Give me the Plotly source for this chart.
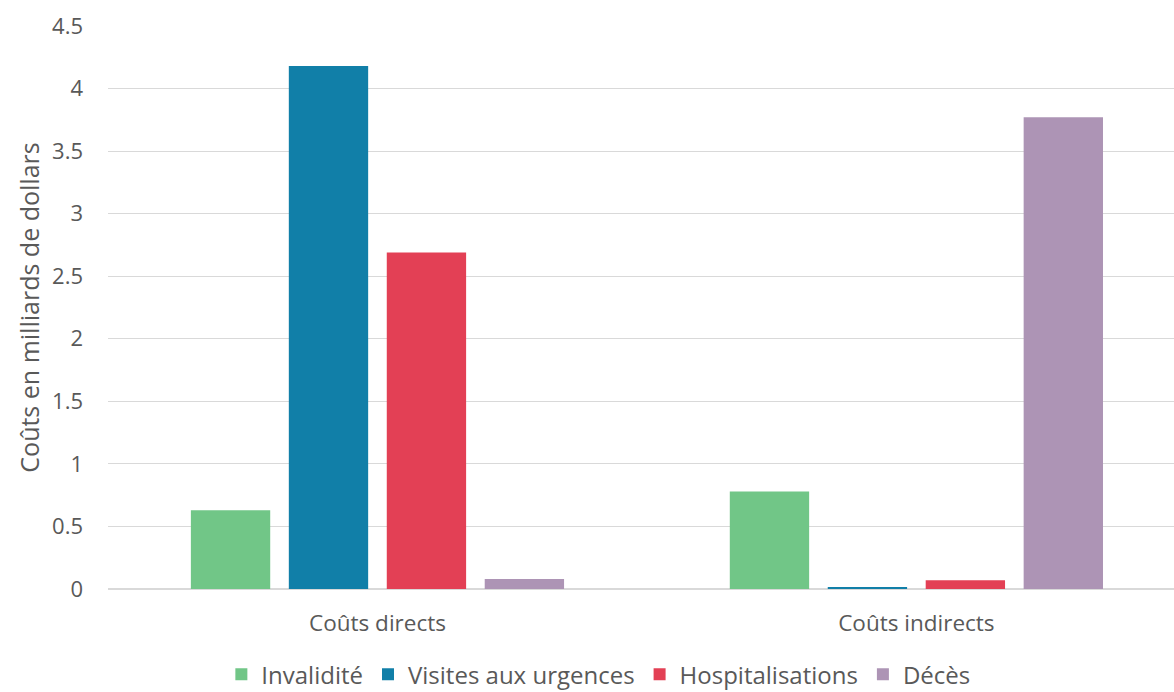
import plotly.graph_objects as go

categories = ["Coûts directs", "Coûts indirects"]
series_names = ["Invalidité", "Visites aux urgences", "Hospitalisations", "Décès"]
invalidite = [0.63, 0.78]
visites = [4.18, 0.01]
hospitalisations = [2.69, 0.07]
deces = [0.08, 3.77]
colors = ["#71c687", "#117fa8", "#e34055", "#ad94b5"]
y_ticks = [0, 0.5, 1, 1.5, 2, 2.5, 3, 3.5, 4, 4.5]
y_tick_labels = ["0", "0.5", "1", "1.5", "2", "2.5", "3", "3.5", "4", "4.5"]

fig = go.Figure()
for name, vals, col in zip(series_names, [invalidite, visites, hospitalisations, deces], colors):
    fig.add_trace(go.Bar(x=categories, y=vals, name=name, marker=dict(color=col, line=dict(width=0))))

font_family = "'Open Sans', sans-serif"
fig.update_layout(
    width=1174, height=692,
    margin=dict(l=108, r=0, t=26, b=103, autoexpand=False),
    paper_bgcolor="white", plot_bgcolor="white",
    barmode="group", bargap=0.273, bargroupgap=0.19,
    font=dict(family=font_family, color="#595959", size=22),
    showlegend=True,
    legend=dict(orientation="h", x=0.46, xanchor="center", y=-0.152, yanchor="middle",
                font=dict(size=24, color="#595959"), itemwidth=30, traceorder="normal"),
    xaxis=dict(type="category", range=[-0.5, 1.478], showgrid=False, showline=False,
               ticks="", tickfont=dict(size=22.5, color="#595959"), ticklabelstandoff=18),
    yaxis=dict(range=[0, 4.5], tickvals=y_ticks, ticktext=y_tick_labels, showgrid=True,
               gridcolor="#d9d9d9", gridwidth=1, zeroline=True, zerolinecolor="#d9d9d9",
               zerolinewidth=2, showline=False, ticks="", tickfont=dict(size=22, color="#595959"),
               ticklabelstandoff=24,
               title=dict(text="Coûts en milliards de dollars", font=dict(size=25, color="#595959"), standoff=5)),
)
fig.write_html("out.html")
